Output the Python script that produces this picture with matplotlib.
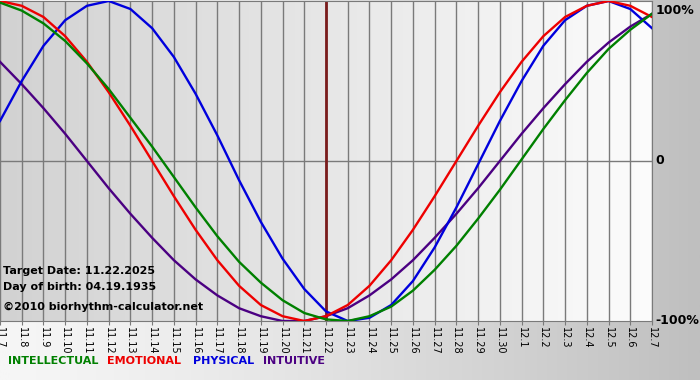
import numpy as np
import matplotlib
matplotlib.use("Agg")
import matplotlib.pyplot as plt
from matplotlib.colors import LinearSegmentedColormap

# day labels from 11.7 to 12.7
days = ["11.%d" % d for d in range(7, 31)] + ["12.%d" % d for d in range(1, 8)]

# values, one per day (-1 .. 1)
intellectual = [0.99, 0.94, 0.86, 0.75, 0.61, 0.45, 0.27, 0.09, -0.10, -0.29,
                -0.47, -0.63, -0.76, -0.87, -0.95, -0.99, -1.00, -0.97, -0.91, -0.81,
                -0.68, -0.53, -0.36, -0.18, 0.01, 0.20, 0.38, 0.55, 0.70, 0.82, 0.92]
emotional = [1.00, 0.97, 0.90, 0.78, 0.62, 0.43, 0.22, 0.00, -0.22, -0.43,
             -0.62, -0.78, -0.90, -0.97, -1.00, -0.97, -0.90, -0.78, -0.62, -0.43,
             -0.22, 0.00, 0.22, 0.43, 0.62, 0.78, 0.90, 0.97, 1.00, 0.97, 0.90]
physical = [0.25, 0.50, 0.72, 0.88, 0.97, 1.00, 0.95, 0.83, 0.65, 0.42,
            0.16, -0.12, -0.38, -0.61, -0.80, -0.94, -1.00, -0.98, -0.90, -0.75,
            -0.54, -0.29, -0.02, 0.25, 0.50, 0.72, 0.88, 0.97, 1.00, 0.95, 0.83]
intuitive = [0.62, 0.48, 0.33, 0.17, 0.00, -0.17, -0.33, -0.48, -0.62, -0.74,
             -0.84, -0.92, -0.97, -1.00, -1.00, -0.97, -0.92, -0.84, -0.74, -0.62,
             -0.48, -0.33, -0.17, 0.00, 0.17, 0.33, 0.48, 0.62, 0.74, 0.84, 0.92]

target_idx = days.index("11.22")

GREEN = "#008000"
RED = "#ee0000"
BLUE = "#0000dd"
PURPLE = "#4b0082"

fig = plt.figure(figsize=(7, 3.8), dpi=100)

# figure background gradient
bg = fig.add_axes([0, 0, 1, 1], zorder=-10)
grad = np.linspace(0, 1, 256) ** 1.3
bg.imshow(grad[None, :], aspect="auto", extent=[0, 1, 0, 1],
          cmap=LinearSegmentedColormap.from_list("g", ["#f6f6f6", "#bfbfbf"]))
bg.axis("off")

ax = fig.add_axes([0, 1 - 321 / 380, 652 / 700, 320 / 380])
x = np.arange(len(days))
ax.set_xlim(0, len(days) - 1)
ax.set_ylim(-1, 1)

# plot area gradient
ax.imshow(np.linspace(0, 1, 256)[None, :], aspect="auto",
          extent=[0, len(days) - 1, -1, 1], zorder=0,
          cmap=LinearSegmentedColormap.from_list("p", ["#d2d2d2", "#fcfcfc"]))

for i in x:
    ax.axvline(i, color="#7a7a7a", lw=1.0, zorder=1)
ax.axhline(0, color="#7a7a7a", lw=1.0, zorder=1)
ax.axvline(target_idx, color="#7a1c1c", lw=2.0, zorder=2)

ax.plot(x, intuitive, color=PURPLE, lw=1.7, zorder=3)
ax.plot(x, physical, color=BLUE, lw=1.7, zorder=4)
ax.plot(x, emotional, color=RED, lw=1.7, zorder=5)
ax.plot(x, intellectual, color=GREEN, lw=1.7, zorder=6)

for s in ax.spines.values():
    s.set_color("#7a7a7a")
ax.spines["left"].set_visible(False)
ax.set_yticks([])
ax.set_xticks(x)
ax.set_xticklabels(days, rotation=-90, fontsize=7, family="DejaVu Sans")
ax.tick_params(axis="x", length=3, pad=1, color="#7a7a7a")

info = ["Target Date: 11.22.2025", "Day of birth: 04.19.1935",
        "\u00a92010 biorhythm-calculator.net"]
for yv, line in zip([-0.69, -0.79, -0.91], info):
    ax.text(0.12, yv, line, fontsize=8, fontweight="bold", va="center", zorder=7)

# right side labels
for yv, lab in [(0.94, "100%"), (0.0, "0"), (-1.0, "-100%")]:
    ax.text(1.005, (yv + 1) / 2, lab, transform=ax.transAxes, fontsize=9,
            fontweight="bold", va="center", ha="left")

# legend words
for xp, lab, c in [(8, "INTELLECTUAL", GREEN), (107, "EMOTIONAL", RED),
                   (193, "PHYSICAL", BLUE), (263, "INTUITIVE", PURPLE)]:
    fig.text(xp / 700, 1 - 361 / 380, lab, color=c, fontsize=8, fontweight="bold",
             va="center", ha="left")

fig.savefig("out.png", dpi=100)
